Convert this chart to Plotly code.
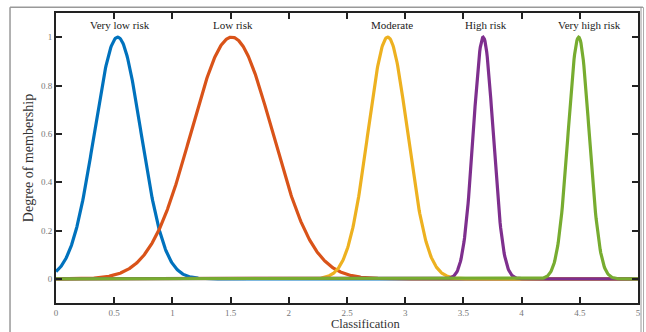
import numpy as np
import plotly.graph_objects as go

# Gaussian membership functions for the risk classes
classes = ["Very low risk", "Low risk", "Moderate", "High risk", "Very high risk"]
centers = [0.53, 1.51, 2.85, 3.67, 4.49]
sigmas = [0.20, 0.35, 0.17, 0.085, 0.09]
colors = ["#0072BD", "#D95319", "#EDB120", "#7E2F8E", "#77AC30"]
label_x = [0.55, 1.52, 2.89, 3.69, 4.58]
label_y = 1.05

x_ticks = [0, 0.5, 1, 1.5, 2, 2.5, 3, 3.5, 4, 4.5, 5]
y_ticks = [0, 0.2, 0.4, 0.6, 0.8, 1]

xs = np.linspace(0, 5, 1001)

fig = go.Figure()
for name, c, s, col in zip(classes, centers, sigmas, colors):
    fig.add_trace(go.Scatter(
        x=xs, y=np.exp(-((xs - c) ** 2) / (2 * s ** 2)),
        mode="lines", name=name,
        line=dict(color=col, width=3.2),
        hoverinfo="skip", showlegend=False,
    ))

for name, lx in zip(classes, label_x):
    fig.add_annotation(x=lx, y=label_y, text=name, showarrow=False,
                       font=dict(family="Liberation Serif", size=11, color="#222"),
                       xanchor="center", yanchor="middle")

# x-axis title placed below the tick labels
fig.add_annotation(x=0.531, y=-0.046, xref="paper", yref="paper",
                   text="Classification", showarrow=False, borderpad=0,
                   xanchor="center", yanchor="top",
                   font=dict(family="Liberation Serif", size=12.5, color="#333"))

axis_common = dict(
    showline=True, linecolor="#222", linewidth=2, mirror="ticks",
    ticks="inside", ticklen=6, tickwidth=2, tickcolor="#222",
    showgrid=False, zeroline=False, automargin=False,
    tickfont=dict(family="Liberation Serif", size=9, color="#777"),
)

fig.update_layout(
    width=646, height=332,
    margin=dict(l=56, r=8, t=13, b=29),
    paper_bgcolor="white", plot_bgcolor="white",
    xaxis=dict(range=[0, 5], tickvals=x_ticks,
               ticktext=[f"{v:g}" for v in x_ticks],
               ticklabelstandoff=0,
               **axis_common),
    yaxis=dict(range=[-0.1, 1.1], tickvals=y_ticks,
               ticktext=[f"{v:g}" for v in y_ticks],
               title=dict(text="Degree of membership", standoff=4,
                          font=dict(family="Liberation Serif", size=14, color="#333")),
               **axis_common),
    shapes=[
        dict(type="line", xref="paper", yref="paper", x0=-0.079, x1=1.0085, y0=1.02, y1=1.02,
             line=dict(color="#999", width=1.5)),
        dict(type="line", xref="paper", yref="paper", x0=-0.079, x1=-0.079, y0=1.02, y1=-0.2,
             line=dict(color="#999", width=1.5)),
        dict(type="line", xref="paper", yref="paper", x0=1.0052, x1=1.0052, y0=1.02, y1=-0.2,
             line=dict(color="#999", width=1)),
        dict(type="line", xref="paper", yref="paper", x0=1.0095, x1=1.0095, y0=1.02, y1=-0.2,
             line=dict(color="#aaa", width=1)),
    ],
)

fig.write_html("out.html")
